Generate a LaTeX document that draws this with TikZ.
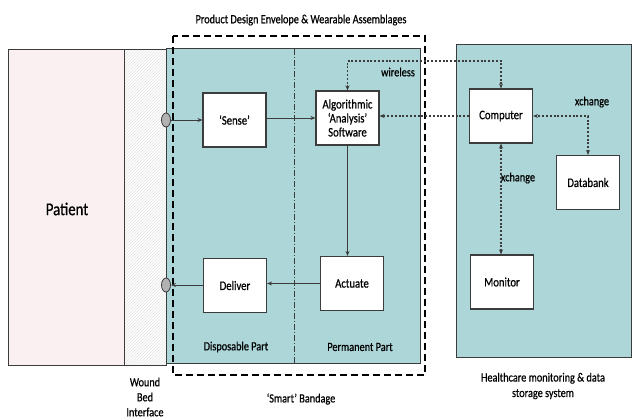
\documentclass[tikz,border=0pt]{standalone}
\usepackage{fontspec}
\setmainfont[FakeStretch=0.82,FakeBold=0.6]{Carlito}
\usetikzlibrary{arrows.meta,patterns,shapes.geometric}
\definecolor{bandblue}{RGB}{172,214,216}
\definecolor{patpink}{RGB}{250,240,242}
\definecolor{edge}{RGB}{60,60,60}
\tikzset{
  >={Stealth[length=5pt,width=4pt]},
  box/.style={draw=edge,line width=1.1pt,fill=white,minimum width=63pt,minimum height=54pt,inner sep=1pt,align=center,font=\fontsize{13}{14}\selectfont},
  arr/.style={line width=0.9pt,draw=edge,->},
  dotline/.style={line width=1.1pt,draw=edge,dash pattern=on 2pt off 1.8pt},
  lbl/.style={font=\fontsize{12.5}{13.5}\selectfont,inner sep=0pt},
  port/.style={ellipse,draw=edge,fill=gray!60,line width=0.8pt,minimum width=9pt,minimum height=14pt,inner sep=0pt},
  envelope/.style={line width=1.8pt,dash pattern=on 7pt off 4pt},
  panel/.style={draw=edge,line width=1pt}
}
\begin{document}
\begin{tikzpicture}[x=1pt,y=-1pt]
\useasboundingbox (0,0) rectangle (633,419);
% patient, hatched interface, bandage panel
\fill[patpink] (8,50) rectangle (124,366);
\draw[panel] (8,50) rectangle (124,366);
\fill[white] (124,50) rectangle (166,366);
\fill[pattern=north east lines,pattern color=gray!22] (124,50) rectangle (166,366);
\draw[panel] (124,50) rectangle (166,366);
\fill[bandblue] (166,49) rectangle (420,364);
\draw[panel] (166,49) rectangle (420,364);
\draw[edge,line width=0.7pt,dash pattern=on 6pt off 2pt on 1pt off 2pt] (294,49) -- (294,364);
% healthcare panel
\fill[bandblue] (456,45) rectangle (631,358);
\draw[panel] (456,45) rectangle (631,358);
% envelope
\draw[envelope] (173,36) rectangle (425,375);
% texts
\node[font=\fontsize{18}{20}\selectfont] (patient) at (67,209) {Patient};
\node[lbl] (title) at (301,20) {Product Design Envelope \& Wearable Assemblages};
\node[lbl] (disp) at (236,347) {Disposable Part};
\node[lbl] (perm) at (360,347) {Permanent Part};
\node[lbl] (smart) at (301,399) {‘Smart’ Bandage};
\node[lbl,align=center] (wound) at (145,397) {Wound\\[1.5pt]Bed\\[1.5pt]Interface};
\node[lbl,align=center] (health) at (543,386) {Healthcare monitoring \& data\\[2pt]storage system};
% boxes
\node[box] (sense) at (234.5,120) {‘Sense’};
\node[box] (alg) at (347.5,118) {Algorithmic\\‘Analysis’\\Software};
\node[box] (deliver) at (235,285.5) {Deliver};
\node[box] (actuate) at (352,283.5) {Actuate};
\node[box] (computer) at (501,116) {Computer};
\node[box] (databank) at (588,182.5) {Databank};
\node[box] (monitor) at (502,282) {Monitor};
% ports
\node[port] (pin) at (166,120) {};
\node[port] (pout) at (166,285) {};
% solid connectors
\draw[arr] (pin.east) -- (sense.west);
\draw[arr] (alg.west -| sense.east) -- (alg.west);
\draw[arr] (alg.south) -- (alg.south |- actuate.north);
\draw[arr] (actuate.west) -- (actuate.west -| deliver.east);
\draw[arr] (deliver.west |- pout) -- (pout.east);
% dotted connectors
\coordinate (wy) at (0,61);
\draw[dotline,<->] (alg.north) -- (alg.north |- wy) -| (computer.north);
\node[lbl] (wireless) at (398,72) {wireless};
\draw[dotline,->] (computer.west) -- (computer.west -| alg.east);
\draw[dotline,<->] (databank.north) |- (computer.east);
\node[lbl] (xch1) at (592,102) {xchange};
\draw[dotline,<->] (computer.south) -- (computer.south |- monitor.north);
\node[lbl] (xch2) at (518,178) {xchange};
\end{tikzpicture}
\end{document}
